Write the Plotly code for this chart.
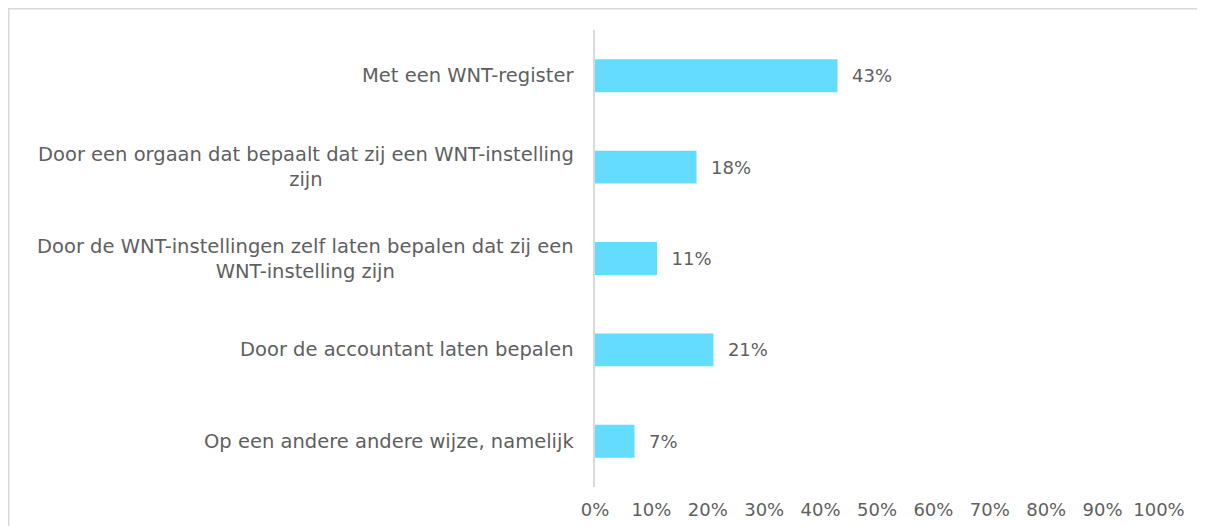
import plotly.graph_objects as go

categories = [
    "Met een WNT-register",
    "Door een orgaan dat bepaalt dat zij een WNT-instelling<br>zijn",
    "Door de WNT-instellingen zelf laten bepalen dat zij een<br>WNT-instelling zijn",
    "Door de accountant laten bepalen",
    "Op een andere andere wijze, namelijk",
]
values = [43, 18, 11, 21, 7]
x_ticks = [0, 10, 20, 30, 40, 50, 60, 70, 80, 90, 100]
x_tick_labels = [f"{t}%" for t in x_ticks]

FONT = "DejaVu Sans"
TXT = "#5f5f5f"
# page body has an 8px margin, so the figure is drawn 8px in from the corner
W, H = 1197, 518
ML, MR, MT, MB = 587, 46, 22, 39
pw, ph = W - ML - MR, H - MT - MB

fig = go.Figure(go.Bar(
    y=categories, x=values, orientation="h",
    marker=dict(color="#64DCFF", line=dict(width=0)),
    text=[f"\u00a0\u00a0{v}%" for v in values],
    textposition="outside", cliponaxis=False,
    textfont=dict(family=FONT, size=18, color=TXT),
    hoverinfo="skip",
))

for c in categories:
    fig.add_annotation(x=0, xref="paper", y=c, yref="y", text=c,
                       showarrow=False, xanchor="right", xshift=-19,
                       align="center",
                       font=dict(family=FONT, size=19.5, color=TXT))

fig.add_shape(type="rect", xref="paper", yref="paper",
              x0=(0.5 - ML) / pw, x1=(1215 - ML) / pw,
              y0=-(600 - (H - MB)) / ph, y1=1 + (MT - 0.5) / ph,
              line=dict(color="#d9d9d9", width=2), layer="below")

fig.update_layout(
    width=W, height=H,
    margin=dict(l=ML, r=MR, t=MT, b=MB, autoexpand=False),
    paper_bgcolor="white", plot_bgcolor="white",
    bargap=0.64, showlegend=False,
    xaxis=dict(range=[0, 100], tickvals=x_ticks, ticktext=x_tick_labels,
               showgrid=False, zeroline=False, showline=False,
               ticks="outside", ticklen=6, tickcolor="rgba(0,0,0,0)",
               tickfont=dict(family=FONT, size=18, color=TXT),
               automargin=False, fixedrange=True),
    yaxis=dict(autorange="reversed", showticklabels=False,
               showline=True, linecolor="#d9d9d9", linewidth=2,
               showgrid=False, zeroline=False, ticks="",
               automargin=False, fixedrange=True),
)

fig.write_html("out.html", config={"displayModeBar": False})
